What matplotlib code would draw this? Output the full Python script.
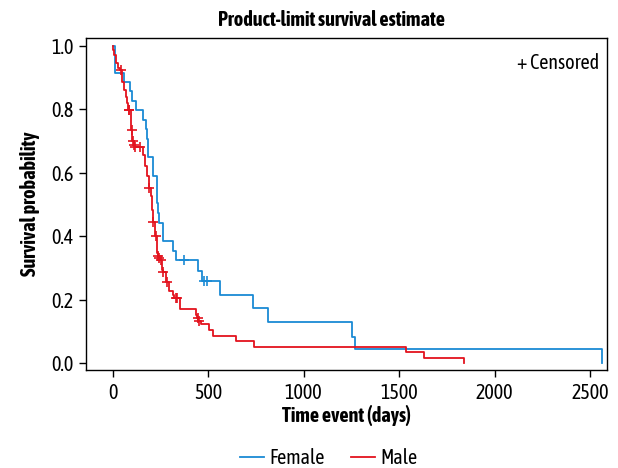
import numpy as np
import matplotlib.pyplot as plt
from matplotlib import font_manager

# Female: event times (days) and survival after each event
female_times = [12, 59, 91, 99, 122, 157, 174, 180, 187, 213, 230, 235, 244, 265,
                314, 330, 446, 469, 562, 733, 811, 1251, 1269, 2560]
female_surv = [0.915, 0.886, 0.857, 0.827, 0.797, 0.767, 0.737, 0.707, 0.650, 0.589,
               0.505, 0.473, 0.442, 0.384, 0.354, 0.325, 0.290, 0.259, 0.216, 0.173,
               0.129, 0.084, 0.045, 0.0]
female_censored = [373, 478, 492]

# Male
male_times = [3, 8, 20, 30, 38, 49, 61, 70, 77, 80, 94, 97, 104, 110, 115, 157, 169,
              180, 190, 199, 204, 210, 223, 230, 236, 242, 248, 260, 263, 277, 296,
              314, 323, 352, 435, 442, 449, 462, 506, 527, 646, 740, 1536, 1632, 1839]
male_surv = [0.988, 0.972, 0.946, 0.930, 0.923, 0.885, 0.862, 0.839, 0.820, 0.797,
             0.757, 0.734, 0.701, 0.689, 0.681, 0.657, 0.620, 0.590, 0.553, 0.526,
             0.484, 0.445, 0.400, 0.347, 0.338, 0.331, 0.324, 0.294, 0.288, 0.257,
             0.229, 0.215, 0.205, 0.170, 0.152, 0.142, 0.134, 0.123, 0.105, 0.087,
             0.071, 0.052, 0.035, 0.018, 0.0]
male_censored = [42, 85, 87, 99, 108, 111, 117, 143, 192, 213, 225, 239, 244, 251,
                 265, 283, 330, 337, 445, 452]

blue = '#1a8ad4'
red = '#e3131e'


def is_bold(w):
    if isinstance(w, str):
        return w in ('bold', 'semibold', 'demibold', 'heavy', 'extra bold', 'black')
    return w >= 600


# pick a narrow face with a bold weight, if one is installed
fonts = font_manager.fontManager.ttflist
narrow = sorted({f.name for f in fonts if 'Condensed' in f.name or 'Narrow' in f.name})
with_bold = [n for n in narrow if any(f.name == n and is_bold(f.weight) for f in fonts)]
if with_bold:
    fam, fs = with_bold[0], 14.5
elif narrow:
    fam, fs = narrow[0], 14.5
else:
    fam, fs = 'Lato', 12.5
plt.rcParams['font.family'] = [fam, 'DejaVu Sans']


def level_at(times, surv, t):
    idx = np.searchsorted(times, t, side='right') - 1
    return 1.0 if idx < 0 else surv[idx]


fig = plt.figure(figsize=(6.18, 4.68), dpi=100)
ax = fig.add_axes([0.139, 0.2094, 0.843, 0.709])

for times, surv, cens, col, lab in [
        (female_times, female_surv, female_censored, blue, 'Female'),
        (male_times, male_surv, male_censored, red, 'Male')]:
    ax.step([0] + times, [1.0] + surv, where='post', color=col, lw=1.3, label=lab)
    cy = [level_at(times, surv, c) for c in cens]
    ax.plot(cens, cy, ls='none', marker='+', ms=6.5, mew=1.2, color=col)

ax.set_xlim(-140, 2588)
ax.set_ylim(-0.021, 1.024)
ax.set_xticks([0, 500, 1000, 1500, 2000, 2500])
ax.set_yticks([0.0, 0.2, 0.4, 0.6, 0.8, 1.0])
ax.set_yticklabels(['0.0', '0.2', '0.4', '0.6', '0.8', '1.0'])
ax.tick_params(labelsize=fs, length=5, width=1, pad=4)
for s in ax.spines.values():
    s.set_linewidth(1.0)

ax.set_xlabel('Time event (days)', fontsize=fs, fontweight='bold', labelpad=2)
ax.set_ylabel('Survival probability', fontsize=fs, fontweight='bold', labelpad=8)
fig.text(0.537, 0.957, 'Product-limit survival estimate', fontsize=fs,
         fontweight='bold', ha='center', va='center')
ax.text(0.985, 0.925, '+ Censored', transform=ax.transAxes, fontsize=fs,
        ha='right', va='center')

fig.legend(loc='center', bbox_to_anchor=(0.532, 0.021), ncol=2, frameon=False,
           fontsize=fs, handlelength=1.2, columnspacing=1.3, handletextpad=0.25)

fig.savefig('out.png', dpi=100)
